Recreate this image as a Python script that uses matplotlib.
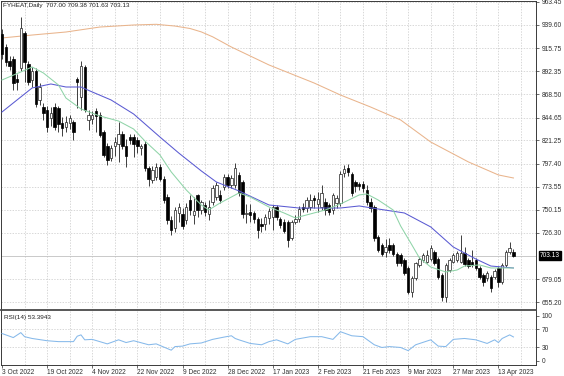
import matplotlib
matplotlib.use("Agg")
import matplotlib.pyplot as plt
import numpy as np

# ---------------- data ----------------
opens = [930, 917, 903, 905, 884, 895, 931, 900, 883, 892, 863, 856, 852, 844, 856, 854, 839, 835, 839, 840,
         884, 866, 897, 842, 843, 851, 847, 830, 815, 803, 816, 818, 828, 815, 825, 825, 822, 813, 818, 793,
         781, 784, 794, 782, 763, 740, 731, 747, 746, 740, 760, 745, 765, 750, 755, 746, 758, 763, 765, 773,
         784, 775, 776, 786, 779, 746, 748, 747, 741, 736, 736, 742, 743, 753, 741, 738, 738, 721, 738, 741,
         753, 752, 753, 762, 756, 753, 758, 755, 750, 757, 757, 788, 793, 787, 779, 777, 777, 770, 758, 753,
         722, 714, 707, 714, 714, 705, 704, 699, 690, 666, 680, 693, 699, 697, 700, 707, 700, 683, 661, 688,
         697, 699, 697, 706, 699, 697, 699, 690, 683, 680, 681, 681, 690, 676, 693, 707, 707.00]
highs = [935, 920, 908, 908, 889, 948, 933, 903, 897, 895, 880, 860, 857, 856, 860, 857, 845, 846, 847, 842,
         886, 903, 899, 852, 851, 854, 850, 832, 819, 817, 825, 840, 831, 823, 828, 828, 825, 818, 821, 795,
         795, 798, 797, 785, 766, 744, 753, 757, 752, 757, 765, 763, 766, 760, 758, 760, 776, 779, 770, 787,
         787, 786, 798, 789, 781, 756, 756, 749, 743, 742, 746, 752, 755, 755, 743, 741, 740, 740, 745, 754,
         757, 763, 766, 765, 768, 775, 762, 757, 767, 765, 790, 796, 797, 789, 781, 779, 780, 775, 762, 755,
         724, 716, 720, 721, 716, 707, 706, 701, 692, 682, 697, 702, 706, 709, 714, 709, 702, 685, 695, 701,
         706, 708, 724, 712, 701, 709, 701, 692, 685, 687, 683, 689, 692, 695, 709, 717, 709.38]
lows = [905, 898, 893, 873, 873, 892, 881, 878, 876, 856, 858, 842, 830, 836, 832, 830, 826, 830, 833, 822,
        854, 852, 850, 832, 838, 830, 825, 804, 796, 800, 805, 799, 812, 794, 818, 804, 808, 806, 790, 774,
        778, 781, 780, 757, 736, 724, 727, 738, 730, 736, 745, 736, 743, 746, 744, 740, 755, 760, 757, 770,
        772, 772, 772, 764, 742, 737, 738, 737, 721, 727, 729, 735, 729, 740, 731, 726, 712, 719, 735, 738,
        748, 748, 750, 752, 748, 750, 745, 745, 746, 752, 754, 784, 785, 764, 768, 770, 768, 755, 748, 718,
        707, 703, 702, 706, 703, 692, 692, 683, 664, 661, 678, 691, 697, 695, 698, 693, 679, 657, 655, 686,
        695, 697, 695, 692, 690, 691, 688, 679, 672, 677, 666, 679, 671, 674, 691, 705, 701.63]
closes = [910, 902, 898, 880, 881, 936, 902, 881, 892, 859, 876, 849, 835, 849, 835, 838, 834, 840, 844, 830,
          881, 898, 852, 847, 847, 846, 827, 806, 801, 813, 820, 828, 816, 805, 822, 818, 815, 815, 793, 782,
          791, 794, 782, 760, 740, 729, 750, 753, 733, 753, 750, 749, 750, 758, 748, 753, 772, 775, 760, 784,
          776, 783, 793, 767, 746, 747, 745, 741, 729, 733, 743, 749, 753, 743, 734, 728, 719, 738, 741, 751,
          751, 760, 760, 760, 761, 767, 750, 748, 765, 762, 787, 792, 789, 767, 774, 774, 772, 758, 752, 721,
          709, 705, 712, 709, 705, 695, 695, 685, 666, 680, 695, 700, 704, 704, 711, 695, 681, 661, 693, 699,
          704, 706, 706, 694, 692, 693, 690, 681, 676, 685, 670, 687, 676, 693, 707, 711, 703.13]

# moving averages, read at sampled bars
ma_slow_idx = [0, 8, 17, 26, 35, 41, 46, 50, 53, 56, 61, 71, 83, 90, 98, 106, 114, 124, 132, 136]
ma_slow_val = [926.3, 929.3, 932.4, 937.5, 939.6, 940.3, 938.5, 936.0, 932.5, 927.5, 917.0, 898.6, 880.1,
               867.8, 855.5, 842.2, 819.6, 799.2, 785.8, 782.7]
ma_mid_idx = [0, 5, 8, 13, 17, 21, 24, 29, 35, 42, 47, 53, 57, 63, 71, 79, 90, 95, 100, 107, 114, 120, 126, 130, 136]
ma_mid_val = [850.4, 865.8, 875.0, 879.1, 876.0, 876.0, 870.9, 862.7, 848.3, 824.7, 808.3, 789.9, 778.6, 769.4,
              755.0, 751.9, 751.9, 754.0, 750.9, 746.8, 732.5, 711.9, 699.6, 692.4, 690.4]
ma_fast_idx = [0, 5, 8, 11, 15, 17, 21, 26, 31, 35, 38, 42, 45, 49, 53, 55, 58, 61, 63, 66, 71, 75, 78, 81, 86,
               90, 95, 97, 100, 104, 106, 109, 111, 114, 118, 121, 123, 127, 130, 136]
ma_fast_val = [883.2, 891.4, 896.5, 890.4, 878.1, 864.7, 853.5, 846.3, 841.1, 832.9, 820.6, 806.3, 788.9, 770.4,
               755.0, 749.9, 757.1, 763.2, 767.3, 763.2, 752.9, 746.8, 741.7, 744.8, 749.9, 756.0, 765.3, 766.3,
               760.2, 749.9, 733.5, 714.0, 700.7, 691.4, 686.3, 688.3, 692.4, 693.5, 690.4, 690.4]

rsi_idx = [0, 1, 3, 5, 6, 8, 12, 15, 19, 20, 21, 22, 24, 28, 31, 33, 35, 39, 41, 45, 46, 48, 50, 53, 56, 59, 61,
           62, 63, 66, 69, 71, 73, 76, 78, 82, 85, 88, 90, 93, 96, 99, 101, 103, 106, 108, 110, 114, 116, 118,
           120, 123, 126, 129, 131, 132, 133, 135, 136]
rsi_val = [61, 58, 52, 63, 54, 50, 45, 43, 43, 55, 58, 47, 48, 38, 47, 41, 45, 36, 38, 24, 32, 33, 38, 40, 48,
           53, 56, 50, 47, 39, 36, 43, 47, 38, 48, 54, 54, 48, 65, 56, 54, 36, 30, 32, 30, 23, 36, 47, 33, 32,
           48, 50, 47, 39, 47, 41, 50, 58, 53.39]

price_ticks = [963.45, 939.60, 915.75, 892.35, 868.50, 844.65, 821.25, 797.40, 773.55, 750.15, 726.30,
               679.05, 655.20]
rsi_ticks = [100, 70, 30, 0]
date_labels = ["3 Oct 2022", "19 Oct 2022", "4 Nov 2022", "22 Nov 2022", "9 Dec 2022", "28 Dec 2022",
               "17 Jan 2023", "2 Feb 2023", "21 Feb 2023", "9 Mar 2023", "27 Mar 2023", "13 Apr 2023"]
date_idx = [0, 12, 24, 36, 48, 60, 72, 84, 96, 108, 120, 132]
last_price = 703.13
title = "FYHEAT,Daily  707.00 709.38 701.63 703.13"
rsi_title = "RSI(14) 53.3943"

# ---------------- figure ----------------
W, H = 564, 376
fig = plt.figure(figsize=(W / 100, H / 100), dpi=100)
FONT = "Liberation Sans"
FS = 4.8
grid_c = "#c8c8c8"
frame_c = "#3a3a3a"

ax = fig.add_axes([1 / W, (H - 310) / H, 535 / W, 309 / H])
ar = fig.add_axes([1 / W, (H - 365) / H, 535 / W, 54 / H])

xmin, xmax = -0.27, 142.0
n = len(closes)
x = np.arange(n)

# grids
for a in (ax, ar):
    for g in range(6, 142, 6):
        a.axvline(g, color=grid_c, lw=0.5, ls=(0, (2, 2)), zorder=0)
for p in price_ticks:
    ax.axhline(p, color=grid_c, lw=0.5, ls=(0, (2, 2)), zorder=0)
for r in (70, 30):
    ar.axhline(r, color=grid_c, lw=0.5, ls=(0, (2, 2)), zorder=0)

# bid line
ax.axhline(last_price, color="#c0c0c0", lw=0.6, zorder=1)

# candles
o = np.array(opens, float); c = np.array(closes, float)
hi = np.array(highs, float); lo = np.array(lows, float)
ax.vlines(x, lo, hi, color="#202020", lw=0.6, zorder=3)
up = c >= o
bottoms = np.minimum(o, c)
heights = np.maximum(np.abs(c - o), 0.8)
ax.bar(x[up], heights[up], bottom=bottoms[up], width=0.64, color="white",
       edgecolor="#202020", linewidth=0.5, zorder=4)
ax.bar(x[~up], heights[~up], bottom=bottoms[~up], width=0.64, color="black",
       edgecolor="black", linewidth=0.5, zorder=4)

# moving averages
ax.plot(ma_slow_idx, ma_slow_val, color="#e9b48c", lw=0.75, zorder=2)
ax.plot(ma_mid_idx, ma_mid_val, color="#5a5ad2", lw=0.75, zorder=5)
ax.plot(ma_fast_idx, ma_fast_val, color="#8fd4a8", lw=0.75, zorder=5)

ax.set_xlim(xmin, xmax)
ax.set_ylim(647.3, 964.2)
ax.set_xticks([])
ax.yaxis.tick_right()
ax.set_yticks(price_ticks)
ax.set_yticklabels([f"{p:.2f}" for p in price_ticks], fontsize=FS, family=FONT, color="#202020")
ax.tick_params(axis="y", direction="out", length=2.5, width=0.5, pad=1.5, colors="#303030")

ax.text(0.004, 0.992, title, transform=ax.transAxes, fontsize=4.6, family=FONT,
        va="top", ha="left", color="#202020")
ax.annotate(f"{last_price:.2f}", xy=(1.0, last_price), xycoords=("axes fraction", "data"),
            xytext=(3, 0), textcoords="offset points", fontsize=FS, family=FONT, color="white",
            va="center", ha="left",
            bbox=dict(boxstyle="square,pad=0.15", fc="black", ec="black"))

for s in ax.spines.values():
    s.set_color(frame_c); s.set_linewidth(0.7)
ax.spines["bottom"].set_linewidth(1.3)
ax.spines["bottom"].set_color("#4a4a4a")

# RSI panel
ar.plot(rsi_idx, rsi_val, color="#86b9ea", lw=0.75, zorder=3)
ar.set_xlim(xmin, xmax)
ar.set_ylim(-8.9, 111)
ar.yaxis.tick_right()
ar.set_yticks(rsi_ticks)
ar.set_yticklabels([str(v) for v in rsi_ticks], fontsize=FS, family=FONT, color="#202020")
ar.tick_params(axis="y", direction="out", length=2.5, width=0.5, pad=1.5, colors="#303030")
ar.set_xticks(date_idx)
ar.set_xticklabels(date_labels, fontsize=FS, family=FONT, color="#202020")
for t in ar.get_xticklabels():
    t.set_ha("left")
ar.tick_params(axis="x", direction="out", length=2, width=0.5, pad=1.0, colors="#303030")
ar.text(0.005, 0.93, rsi_title, transform=ar.transAxes, fontsize=4.6, family=FONT,
        va="top", ha="left", color="#202020")
for s in ar.spines.values():
    s.set_color(frame_c); s.set_linewidth(0.7)
ar.spines["top"].set_visible(False)

fig.savefig("out.png", dpi=100, facecolor="white")
